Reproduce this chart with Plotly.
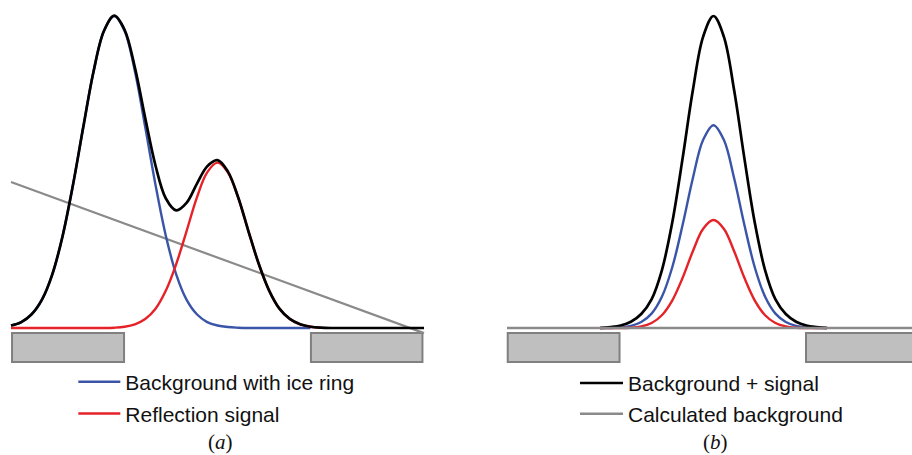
import plotly.graph_objects as go

# ---------------- data (x: detector position units, y: intensity, peak = 100) -------------
pos = list(range(0, 41))

# panel (a)
bg_ice_a = [0.8, 1.9, 4.4, 9.1, 17.2, 29.5, 45.8, 64.4, 82.3, 95.2, 100.0, 95.2, 82.3, 64.4,
            45.8, 29.5, 17.2, 9.1, 4.4, 1.9, 0.8, 0.3, 0.1, 0, 0, 0, 0, 0, 0, 0]
signal_a = [0, 0, 0, 0, 0, 0, 0, 0, 0, 0, 0.1, 0.4, 1.2, 2.9, 6.2, 12.0, 20.5, 31.0, 41.8,
            49.9, 53.0, 49.9, 41.8, 31.0, 20.5, 12.0, 6.2, 2.9, 1.2, 0.4, 0.1]
total_a = [0.8, 1.9, 4.4, 9.1, 17.2, 29.5, 45.8, 64.4, 82.3, 95.2, 100.1, 95.6, 83.5, 67.3,
           52.0, 41.5, 37.7, 40.1, 46.2, 51.8, 53.8, 50.2, 41.9, 31.0, 20.5, 12.0, 6.2, 2.9,
           1.2, 0.4, 0.1, 0, 0, 0, 0, 0, 0, 0, 0, 0, 0]
calc_bg_a_x = [0, 40]
calc_bg_a_y = [46.8, -1.65]

# panel (b)
pos_b = list(range(9, 32))
total_b = [0, 0.3, 0.8, 2.0, 4.5, 9.2, 18.5, 33.7, 54.2, 76.2, 93.4, 100.0, 93.4, 76.2, 54.2,
           33.7, 18.5, 9.2, 4.5, 2.0, 0.8, 0.3, 0]
bg_ice_b = [0, 0, 0.2, 0.7, 1.9, 4.6, 10.0, 19.4, 32.9, 48.0, 60.3, 65.0, 60.3, 48.0, 32.9,
            19.4, 10.0, 4.6, 1.9, 0.7, 0.2, 0, 0]
signal_b = [0, 0, 0, 0.1, 0.5, 1.6, 4.1, 8.8, 16.0, 24.6, 31.8, 34.6, 31.8, 24.6, 16.0, 8.8,
            4.1, 1.6, 0.5, 0.1, 0, 0, 0]
calc_bg_b_x = [0, 40]
calc_bg_b_y = [0, 0]

# background integration regions (position ranges) and their depth below baseline
regions_a = [(0.1, 10.95), (29.05, 39.85)]
regions_b = [(0.07, 10.9), (28.96, 39.9)]
region_depth = (-1.6, -10.9)

labels = ["Background with ice ring", "Reflection signal",
          "Background + signal", "Calculated background"]

# ---------------- style -------------
BLUE = "#3a55a8"
RED = "#e52228"
BLACK = "#000000"
GRAY = "#8a8a8a"
FONT = "Liberation Sans, Arial, sans-serif"

fig = go.Figure()

# panel (a)
fig.add_trace(go.Scatter(x=calc_bg_a_x, y=calc_bg_a_y, mode="lines",
                         line=dict(color=GRAY, width=2.2), showlegend=False,
                         xaxis="x", yaxis="y"))
fig.add_trace(go.Scatter(x=pos[:len(bg_ice_a)], y=bg_ice_a, mode="lines", name=labels[0],
                         line=dict(color=BLUE, width=2.4, shape="spline"),
                         legend="legend", legendgroup="a1", xaxis="x", yaxis="y"))
fig.add_trace(go.Scatter(x=pos[:len(signal_a)], y=signal_a, mode="lines", name=labels[1],
                         line=dict(color=RED, width=2.4, shape="spline"),
                         legend="legend", legendgroup="a2", xaxis="x", yaxis="y"))
fig.add_trace(go.Scatter(x=pos, y=total_a, mode="lines",
                         line=dict(color=BLACK, width=2.7, shape="spline"),
                         showlegend=False, xaxis="x", yaxis="y"))

# panel (b)
fig.add_trace(go.Scatter(x=pos_b, y=bg_ice_b, mode="lines",
                         line=dict(color=BLUE, width=2.4, shape="spline"),
                         showlegend=False, xaxis="x2", yaxis="y2"))
fig.add_trace(go.Scatter(x=pos_b, y=signal_b, mode="lines",
                         line=dict(color=RED, width=2.4, shape="spline"),
                         showlegend=False, xaxis="x2", yaxis="y2"))
fig.add_trace(go.Scatter(x=pos_b, y=total_b, mode="lines", name=labels[2],
                         line=dict(color=BLACK, width=2.7, shape="spline"),
                         legend="legend2", legendgroup="b1", xaxis="x2", yaxis="y2"))
fig.add_trace(go.Scatter(x=calc_bg_b_x, y=calc_bg_b_y, mode="lines", name=labels[3],
                         line=dict(color=GRAY, width=2.4),
                         legend="legend2", legendgroup="b2", xaxis="x2", yaxis="y2"))

shapes = []
for (x0, x1) in regions_a:
    shapes.append(dict(type="rect", xref="x", yref="y", x0=x0, x1=x1,
                       y0=region_depth[0], y1=region_depth[1],
                       fillcolor="#bfbfbf", line=dict(color="#808080", width=2), layer="below"))
for (x0, x1) in regions_b:
    shapes.append(dict(type="rect", xref="x2", yref="y2", x0=x0, x1=x1,
                       y0=region_depth[0], y1=region_depth[1],
                       fillcolor="#bfbfbf", line=dict(color="#808080", width=2), layer="below"))

axis_common = dict(visible=False, showgrid=False, zeroline=False, fixedrange=True)

fig.update_layout(
    width=912, height=455,
    margin=dict(l=0, r=0, t=0, b=0),
    paper_bgcolor="white", plot_bgcolor="white",
    xaxis=dict(domain=[0, 0.5], range=[-1.065, 43.099], **axis_common),
    yaxis=dict(domain=[0, 1], range=[-40.705, 105.128], anchor="x", **axis_common),
    xaxis2=dict(domain=[0.5, 1], range=[-4.939, 39.225], anchor="y2", **axis_common),
    yaxis2=dict(domain=[0, 1], range=[-40.705, 105.128], anchor="x2", **axis_common),
    shapes=shapes,
    legend=dict(x=0.0804, y=0.2054, xanchor="left", yanchor="top",
                bgcolor="rgba(0,0,0,0)", borderwidth=0, itemwidth=42,
                traceorder="grouped", tracegroupgap=1.5,
                font=dict(family=FONT, size=21, color="#111111")),
    legend2=dict(x=0.6305, y=0.2025, xanchor="left", yanchor="top",
                 bgcolor="rgba(0,0,0,0)", borderwidth=0, itemwidth=43,
                 traceorder="grouped", tracegroupgap=0.5,
                 font=dict(family=FONT, size=21, color="#111111")),
    annotations=[
        dict(text="(<i>a</i>)", xref="paper", yref="paper", x=220 / 912, y=0.028,
             xanchor="center", yanchor="middle", showarrow=False,
             font=dict(family="Liberation Serif, Times New Roman, serif", size=21, color="#111111")),
        dict(text="(<i>b</i>)", xref="paper", yref="paper", x=715 / 912, y=0.028,
             xanchor="center", yanchor="middle", showarrow=False,
             font=dict(family="Liberation Serif, Times New Roman, serif", size=21, color="#111111")),
    ],
    showlegend=True,
)

fig.write_html("out.html", config={"displayModeBar": False, "staticPlot": True},
               post_script="document.body.style.margin='0';document.body.style.padding='0';"
                           "document.body.style.overflow='hidden';")
